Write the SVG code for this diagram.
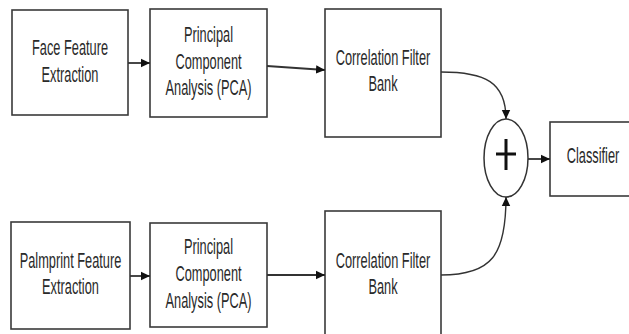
<svg xmlns="http://www.w3.org/2000/svg" width="629" height="334" viewBox="0 0 629 334">
<style>
.box{fill:#fff;stroke:#3a3a3a;stroke-width:1.6}
.t{font-family:"Liberation Sans",Arial,sans-serif;font-size:12.8px;fill:#2a2a2a;text-anchor:middle}
.c{fill:none;stroke:#333;stroke-width:1.8}
.cv{fill:none;stroke:#333;stroke-width:1.4}
</style>
<defs>
<marker id="ah" markerUnits="userSpaceOnUse" markerWidth="10" markerHeight="10" refX="9" refY="5" orient="auto">
<path d="M0,0.8 L9,5 L0,9.2 Z" fill="#111"/>
</marker>
</defs>
<rect width="629" height="334" fill="#fff"/>
<g id="face">
<rect class="box" x="12" y="10" width="116" height="105"/>
<text class="t" transform="translate(70,55) scale(1,1.7)">Face Feature</text>
<text class="t" transform="translate(70,82) scale(1,1.7)">Extraction</text>
</g>
<g id="pca1">
<rect class="box" x="150" y="9" width="117" height="108"/>
<text class="t" transform="translate(208.5,42) scale(1,1.7)">Principal</text>
<text class="t" transform="translate(208.5,68.5) scale(1,1.7)">Component</text>
<text class="t" transform="translate(208.5,95) scale(1,1.7)">Analysis (PCA)</text>
</g>
<g id="cfb1">
<rect class="box" x="325" y="9" width="116" height="128"/>
<text class="t" transform="translate(383,65) scale(1,1.7)">Correlation Filter</text>
<text class="t" transform="translate(383,91) scale(1,1.7)">Bank</text>
</g>
<g id="palm">
<rect class="box" x="11" y="222" width="119" height="107"/>
<text class="t" transform="translate(70.5,268) scale(1,1.7)">Palmprint Feature</text>
<text class="t" transform="translate(70.5,294) scale(1,1.7)">Extraction</text>
</g>
<g id="pca2">
<rect class="box" x="150" y="223" width="117" height="104"/>
<text class="t" transform="translate(208.5,254) scale(1,1.7)">Principal</text>
<text class="t" transform="translate(208.5,281) scale(1,1.7)">Component</text>
<text class="t" transform="translate(208.5,308) scale(1,1.7)">Analysis (PCA)</text>
</g>
<g id="cfb2">
<rect class="box" x="325" y="211" width="116" height="130"/>
<text class="t" transform="translate(383,268) scale(1,1.7)">Correlation Filter</text>
<text class="t" transform="translate(383,294) scale(1,1.7)">Bank</text>
</g>
<g id="sum">
<ellipse cx="506" cy="158" rx="22" ry="39" fill="#fff" stroke="#333" stroke-width="1.5"/>
<path d="M496,154 H516 M506,139 V170" stroke="#111" stroke-width="3" fill="none"/>
</g>
<g id="classifier">
<rect class="box" x="550" y="122" width="85" height="74"/>
<text class="t" transform="translate(593,163) scale(1,1.7)">Classifier</text>
</g>
<g id="connectors">
<line class="c" x1="128" y1="63" x2="150" y2="63" marker-end="url(#ah)"/>
<line class="c" x1="267" y1="66" x2="325" y2="70" marker-end="url(#ah)"/>
<line class="c" x1="130" y1="276" x2="150" y2="276" marker-end="url(#ah)"/>
<line class="c" x1="267" y1="275" x2="325" y2="275" marker-end="url(#ah)"/>
<path class="cv" d="M441,72 C485,72 506,82 506,119" marker-end="url(#ah)"/>
<path class="cv" d="M441,275 C492,275 506,255 506,197" marker-end="url(#ah)"/>
<line class="c" x1="528" y1="159" x2="550" y2="159" marker-end="url(#ah)"/>
</g>
</svg>
